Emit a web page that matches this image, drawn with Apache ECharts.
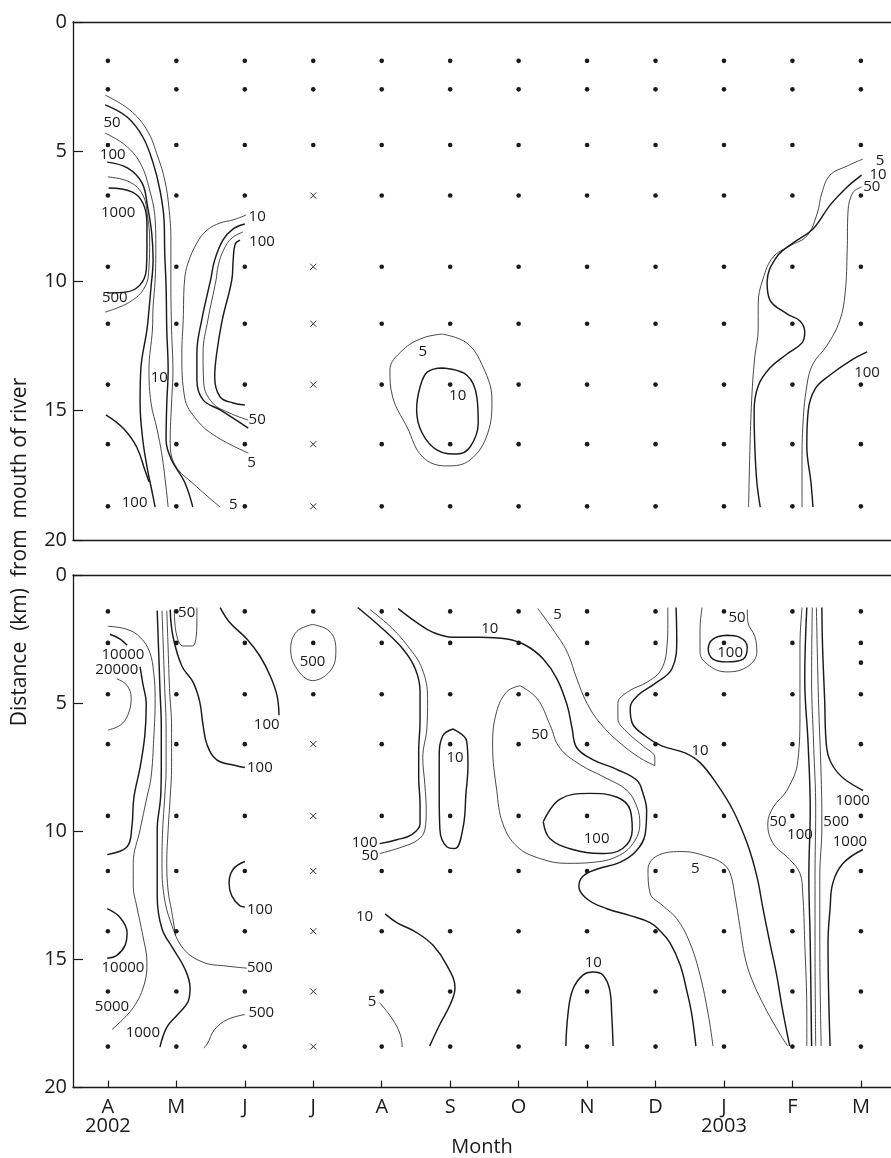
<!DOCTYPE html>
<html>
<head>
<meta charset="utf-8">
<script src="https://cdn.jsdelivr.net/npm/echarts@6/dist/echarts.min.js"></script>
<style>
  html, body { margin: 0; padding: 0; background: #fff; }
  #chart { width: 891px; height: 1158px; }
</style>
</head>
<body>
<div id="chart"></div>
<script>
// ---- sampling calendar and stations ----
const MONTHS = ['A', 'M', 'J', 'J', 'A', 'S', 'O', 'N', 'D', 'J', 'F', 'M'];
const YEAR_AT = { 0: '2002', 9: '2003' };
const UPPER_DEPTHS = [1.5, 2.6, 4.75, 6.7, 9.45, 11.65, 14.0, 16.3, 18.7];
const LOWER_DEPTHS = [1.42, 2.65, 4.65, 6.6, 9.4, 11.55, 13.9, 16.25, 18.4];
const UNSAMPLED_MONTH = 3;      // July: deeper stations not sampled
const UNSAMPLED_FROM_ROW = 3;
const LOWER_EXTRA_STATIONS = [[11, 3.42]];

// ---- upper panel isolines: [month index, km] ----
const up5West = [[-0.04,2.82],[0.32,3.40],[0.57,4.17],[0.73,5.21],[0.83,6.10],[0.89,7.14],[0.92,8.42],[0.92,9.96],[0.93,11.89],[0.95,13.44],[0.93,14.71],[0.91,16.14],[0.98,17.10],[1.27,17.88],[1.64,18.73]];
const up10West = [[-0.04,3.20],[0.28,3.67],[0.51,4.44],[0.66,5.44],[0.76,6.49],[0.82,7.64],[0.83,8.92],[0.85,10.23],[0.86,11.89],[0.88,13.44],[0.86,14.71],[0.85,16.14],[0.93,16.91],[1.12,17.76],[1.24,18.73]];
const up50West = [[-0.04,4.29],[0.25,4.75],[0.47,5.44],[0.61,6.49],[0.69,7.64],[0.70,8.69],[0.69,9.96],[0.66,11.00],[0.65,11.89],[0.60,13.44],[0.63,14.71],[0.72,15.75],[0.80,16.91],[0.88,18.73]];
const up100West = [[-0.01,5.41],[0.29,5.64],[0.50,6.22],[0.58,7.14],[0.64,8.15],[0.66,9.19],[0.63,10.23],[0.60,11.12],[0.57,11.89],[0.48,13.44],[0.47,14.71],[0.51,16.14],[0.58,17.30],[0.64,18.07],[0.69,18.73]];
const up100South = [[-0.03,15.17],[0.22,15.68],[0.42,16.41],[0.54,17.30],[0.60,17.75]];
const up500West = [[0,5.98],[0.32,6.18],[0.51,6.68],[0.58,7.53],[0.61,8.42],[0.60,9.46],[0.54,10.23],[0.32,10.81],[-0.04,11.20]];
const up1000West = [[0.01,6.41],[0.35,6.56],[0.51,6.99],[0.57,7.76],[0.57,8.69],[0.56,9.58],[0.47,10.15],[0.28,10.42],[-0.01,10.46]];
const upJune5 = [[2.02,7.45],[1.83,7.64],[1.64,7.76],[1.45,8.03],[1.30,8.53],[1.17,9.31],[1.12,9.96],[1.10,11.51],[1.08,12.78],[1.12,14.48],[1.30,15.37],[1.59,16.02],[2.05,16.64]];
const upJune10 = [[2.00,7.80],[1.83,7.99],[1.68,8.42],[1.56,9.19],[1.50,9.96],[1.37,11.51],[1.30,12.78],[1.30,13.82],[1.39,14.59],[1.64,14.98],[2.05,15.68]];
const upJune50 = [[1.97,8.11],[1.81,8.34],[1.69,8.80],[1.61,9.42],[1.58,9.96],[1.46,11.51],[1.39,12.78],[1.40,13.94],[1.53,14.71],[1.78,15.10],[2.05,15.37]];
const upJune100 = [[1.93,8.42],[1.86,8.57],[1.83,9.19],[1.81,9.96],[1.67,11.51],[1.59,12.78],[1.56,13.71],[1.64,14.48],[1.83,14.71],[2.00,14.79]];
const upSept5 = [[4.88,12.05],[5.24,12.39],[5.48,13.32],[5.61,14.59],[5.55,15.87],[5.29,16.91],[4.95,17.14],[4.60,16.80],[4.37,15.64],[4.16,14.48],[4.12,13.44],[4.31,12.66],[4.60,12.20],[4.88,12.05]];
const upSept10 = [[4.89,13.36],[5.24,13.63],[5.39,14.48],[5.41,15.48],[5.29,16.41],[5.10,16.68],[4.81,16.53],[4.59,15.87],[4.51,14.98],[4.56,14.09],[4.67,13.51],[4.89,13.36]];
const upFeb5 = [[11.03,5.29],[10.80,5.56],[10.55,5.91],[10.43,6.60],[10.36,7.41],[10.21,8.26],[9.96,8.65],[9.72,9.07],[9.57,9.92],[9.50,10.89],[9.50,11.85],[9.45,12.93],[9.41,14.32],[9.38,16.37],[9.36,18.73]];
const upFeb10 = [[11.01,5.91],[10.80,6.37],[10.55,7.07],[10.30,7.99],[10.01,8.53],[9.77,9.07],[9.63,10.04],[9.67,10.73],[9.92,11.27],[10.11,11.54],[10.18,11.97],[10.14,12.39],[9.92,12.82],[9.67,13.36],[9.50,14.05],[9.44,15.02],[9.45,16.37],[9.48,17.76],[9.53,18.73]];
const upFeb50 = [[11.01,6.37],[10.88,6.60],[10.81,7.41],[10.80,8.80],[10.77,10.46],[10.69,11.54],[10.50,12.51],[10.30,13.20],[10.21,14.05],[10.15,15.71],[10.14,17.07],[10.14,18.73]];
const upFeb100 = [[11.09,12.74],[10.84,13.09],[10.55,13.63],[10.33,14.17],[10.23,15.02],[10.21,16.37],[10.27,17.76],[10.30,18.73]];

const UPPER_TAGS = [
  [0.06,3.90,'50'],[0.07,5.14,'100'],[0.15,7.37,'1000'],[0.10,10.66,'500'],
  [0.75,13.75,'10'],[0.39,18.57,'100'],[1.83,18.65,'5'],[2.10,17.03,'5'],
  [2.18,15.37,'50'],[2.18,7.53,'10'],[2.25,8.49,'100'],[4.60,12.74,'5'],
  [5.11,14.44,'10'],[11.28,5.37,'5'],[11.25,5.91,'10'],[11.16,6.37,'50'],
  [11.09,13.55,'100']
];

// ---- lower panel isolines: [month index, km] ----
const loCapArc = [[0.03,2.31],[0.18,2.50],[0.28,2.74]];
const loOuterWest = [[0,2.00],[0.28,2.12],[0.47,2.43],[0.61,3.01],[0.67,3.85],[0.69,4.82],[0.67,6.36],[0.63,7.90],[0.57,8.67],[0.47,9.94],[0.37,11.25],[0.37,12.14],[0.42,12.91],[0.51,14.07],[0.57,15.11],[0.54,15.88],[0.37,16.88],[0.06,17.73]];
const loCoreWest = [[0.47,3.58],[0.51,4.24],[0.56,5.01],[0.54,6.24],[0.47,7.51],[0.38,8.67],[0.35,9.83],[0.28,10.60],[-0.01,10.91]];
const lo20000 = [[0.13,4.05],[0.28,4.31],[0.34,4.82],[0.29,5.47],[0.18,5.86],[0,6.05]];
const lo10000South = [[-0.01,13.02],[0.18,13.37],[0.28,13.95],[0.25,14.45],[0.13,14.84],[-0.01,14.95]];
const lo1000May = [[0.72,1.39],[0.74,2.89],[0.76,4.43],[0.78,5.97],[0.78,7.51],[0.77,8.67],[0.72,9.94],[0.72,11.25],[0.72,12.52],[0.79,13.80],[0.95,14.57],[1.12,15.34],[1.20,16.11],[1.17,16.65],[1.02,17.15],[0.86,17.65],[0.76,18.42]];
const lo500May = [[0.79,1.39],[0.81,2.89],[0.83,4.43],[0.85,5.97],[0.85,7.51],[0.83,8.67],[0.80,9.94],[0.79,11.25],[0.82,12.52],[0.92,13.56],[1.10,14.57],[1.39,15.11],[1.74,15.26],[2.03,15.34]];
const loMayInner = [[0.86,1.39],[0.88,2.89],[0.90,4.43],[0.93,5.97],[0.93,7.51],[0.91,8.67],[0.88,9.94],[0.86,11.25],[0.88,12.33],[0.93,13.10],[0.99,14.07]];
const lo100May = [[0.91,1.35],[0.95,2.39],[1.08,3.55],[1.24,4.16],[1.34,4.93],[1.39,5.86],[1.45,6.63],[1.59,7.21],[1.88,7.44],[2.00,7.51]];
const lo50May = [[0.97,1.35],[1.00,2.30],[1.10,2.77],[1.23,2.77],[1.29,2.39],[1.30,1.73],[1.30,1.27]];
const lo100June = [[1.64,1.27],[1.78,1.85],[2.03,2.50],[2.22,3.16],[2.37,3.93],[2.47,4.70],[2.50,5.47]];
const lo500July = [[2.99,1.93],[3.24,2.20],[3.33,2.89],[3.27,3.66],[2.99,4.12],[2.76,3.66],[2.67,2.89],[2.76,2.20],[2.99,1.93]];
const lo100Hook = [[2.00,11.18],[1.83,11.48],[1.77,12.02],[1.81,12.52],[1.93,12.91],[2.00,12.95]];
const lo500Foot = [[2.00,17.15],[1.75,17.34],[1.56,17.73],[1.45,18.30],[1.40,18.45]];
const lo100Aug = [[3.65,1.27],[4.02,2.12],[4.31,2.89],[4.49,3.66],[4.56,4.55],[4.56,5.70],[4.54,6.86],[4.54,7.90],[4.56,8.94],[4.56,9.71],[4.44,10.13],[4.22,10.33],[3.97,10.48]];
const lo50Aug = [[3.83,1.35],[4.12,2.00],[4.38,2.77],[4.59,3.66],[4.67,4.82],[4.66,5.97],[4.60,7.13],[4.63,8.17],[4.65,9.17],[4.63,9.94],[4.53,10.33],[4.31,10.60],[3.97,10.87]];
const lo10Sept = [[5.04,6.01],[5.24,6.47],[5.26,7.40],[5.23,8.55],[5.19,9.83],[5.07,10.67],[4.95,10.60],[4.85,9.94],[4.84,8.55],[4.84,7.13],[4.89,6.28],[5.04,6.01]];
const lo10Main = [[4.24,1.31],[4.51,1.85],[4.75,2.24],[5.04,2.43],[5.43,2.43],[5.83,2.50],[6.12,2.77],[6.36,3.28],[6.56,4.05],[6.71,5.09],[6.78,5.97],[6.85,6.74],[7.09,7.21],[7.44,7.59],[7.73,8.02],[7.82,8.55],[7.87,9.17],[7.85,10.10],[7.71,10.79],[7.48,11.21],[7.14,11.48],[6.94,11.75],[6.88,12.14],[7.00,12.64],[7.29,13.02],[7.63,13.29],[7.92,13.56],[8.06,13.87],[8.21,14.34],[8.36,15.22],[8.46,16.26],[8.53,17.15],[8.59,18.38]];
const lo50Oct = [[6.02,4.32],[6.27,4.82],[6.46,5.86],[6.60,6.74],[6.90,7.40],[7.26,7.90],[7.58,8.40],[7.73,9.06],[7.77,9.71],[7.67,10.48],[7.44,10.98],[7.09,11.21],[6.71,11.25],[6.31,11.06],[5.98,10.60],[5.77,9.71],[5.68,8.40],[5.62,6.63],[5.68,5.32],[5.83,4.55],[6.02,4.32]];
const lo100Nov = [[6.36,9.63],[6.60,8.75],[7.04,8.52],[7.44,8.67],[7.63,9.17],[7.66,9.94],[7.52,10.67],[7.19,10.87],[6.79,10.71],[6.46,10.29],[6.36,9.63]];
const lo5North = [[6.28,1.31],[6.50,2.12],[6.71,3.01],[6.85,4.05],[7.00,5.01],[7.19,5.78],[7.48,6.55],[7.77,7.13],[7.99,7.44],[7.99,7.13],[7.82,6.67],[7.60,6.17],[7.45,5.59],[7.45,5.01],[7.60,4.55],[7.89,4.16],[8.09,3.66],[8.17,2.70],[8.18,1.93],[8.18,1.27]];
const lo10Dec = [[8.30,1.27],[8.31,2.50],[8.24,3.66],[7.99,4.24],[7.74,4.70],[7.63,5.20],[7.66,5.78],[7.85,6.28],[8.09,6.67],[8.43,6.94],[8.65,7.32],[8.90,8.17],[9.13,9.17],[9.34,10.48],[9.48,11.75],[9.57,13.02],[9.67,14.34],[9.77,15.61],[9.85,16.88],[9.96,18.38]];
const lo5Dec = [[8.84,18.38],[8.77,17.15],[8.65,15.61],[8.50,14.34],[8.31,13.41],[8.11,12.91],[7.92,12.41],[7.89,11.48],[8.06,10.91],[8.40,10.79],[8.75,10.98],[8.98,11.25],[9.09,11.64],[9.16,12.52],[9.23,13.68],[9.31,14.95],[9.41,15.80],[9.60,16.88],[9.82,17.92],[9.93,18.38]];
const lo10NovFoot = [[6.69,18.38],[6.72,17.15],[6.79,16.18],[6.94,15.61],[7.09,15.49],[7.23,15.61],[7.33,16.18],[7.36,17.15],[7.38,18.38]];
const lo10SeptFoot = [[4.05,13.22],[4.22,13.56],[4.51,13.95],[4.75,14.45],[4.95,15.22],[5.07,16.11],[5.00,16.76],[4.85,17.53],[4.70,18.38]];
const lo5AugFoot = [[3.97,16.69],[4.15,17.30],[4.27,17.92],[4.30,18.42]];
const lo50Jan = [[8.68,1.27],[8.65,2.12],[8.65,3.01],[8.79,3.55],[9.04,3.78],[9.34,3.58],[9.48,3.01],[9.45,2.39],[9.35,1.85],[9.34,1.35]];
const lo100Jan = [[9.04,2.35],[9.23,2.43],[9.34,2.81],[9.28,3.28],[9.04,3.39],[8.84,3.28],[8.77,2.89],[8.84,2.50],[9.04,2.35]];
const lo50Feb = [[10.14,1.27],[10.11,2.77],[10.11,5.32],[10.08,7.24],[9.92,8.40],[9.72,9.06],[9.64,9.71],[9.72,10.48],[9.96,11.10],[10.11,11.64],[10.15,12.41],[10.18,14.34],[10.21,17.15],[10.21,18.38]];
const lo100Feb = [[10.21,1.27],[10.18,4.05],[10.23,6.63],[10.26,9.17],[10.24,11.75],[10.26,14.34],[10.28,18.38]];
const loFebMid = [[10.29,1.27],[10.28,4.05],[10.31,6.63],[10.34,9.17],[10.33,11.75],[10.33,14.34],[10.34,18.38]];
const lo500Feb = [[10.35,1.27],[10.38,4.82],[10.42,7.90],[10.43,9.83],[10.40,11.75],[10.40,14.34],[10.42,18.38]];
const lo1000FebN = [[10.43,1.27],[10.44,2.77],[10.47,4.82],[10.50,6.74],[10.66,7.71],[11.03,8.40]];
const lo1000FebS = [[11.03,10.71],[10.74,11.25],[10.59,12.02],[10.55,13.02],[10.52,14.34],[10.55,18.38]];

const LOWER_TAGS = [
  [0.22,3.12,'10000'],[0.13,3.70,'20000'],[1.15,1.46,'50'],[2.22,7.51,'100'],
  [2.32,5.86,'100'],[2.99,3.39,'500'],[2.22,13.06,'100'],[0.22,15.34,'10000'],
  [0.06,16.84,'5000'],[2.22,15.34,'500'],[0.51,17.84,'1000'],[2.24,17.07,'500'],
  [5.58,2.08,'10'],[6.57,1.54,'5'],[5.07,7.13,'10'],[6.31,6.24,'50'],
  [7.14,10.29,'100'],[3.75,10.44,'100'],[3.83,10.94,'50'],[3.75,13.33,'10'],
  [3.86,16.65,'5'],[7.09,15.11,'10'],[8.58,11.48,'5'],[8.65,6.86,'10'],
  [9.19,1.66,'50'],[9.09,3.04,'100'],[9.79,9.63,'50'],[10.11,10.13,'100'],
  [10.64,9.63,'500'],[10.88,8.79,'1000'],[10.84,10.40,'1000']
];

// ---- which isolines are drawn with the heavier pen ----
const upperIsolines = [
  [up5West, false], [up10West, true], [up50West, false], [up100West, true],
  [up100South, true], [up500West, false], [up1000West, true],
  [upJune5, false], [upJune10, true], [upJune50, false], [upJune100, true],
  [upSept5, false], [upSept10, true],
  [upFeb5, false], [upFeb10, true], [upFeb50, false], [upFeb100, true]
];
const lowerIsolines = [
  [loCapArc, true], [loOuterWest, false], [loCoreWest, true], [lo20000, false],
  [lo10000South, true], [lo1000May, true], [lo500May, false], [loMayInner, false],
  [lo100May, true], [lo50May, false], [lo100June, true], [lo500July, false],
  [lo100Hook, true], [lo500Foot, false], [lo100Aug, true], [lo50Aug, false],
  [lo10Sept, true], [lo10Main, true], [lo50Oct, false], [lo100Nov, true],
  [lo5North, false], [lo10Dec, true], [lo5Dec, false], [lo10NovFoot, true],
  [lo10SeptFoot, true], [lo5AugFoot, false], [lo50Jan, false], [lo100Jan, true],
  [lo50Feb, false], [lo100Feb, true], [loFebMid, false], [lo500Feb, false],
  [lo1000FebN, true], [lo1000FebS, true]
];

const INK = '#1a1a1a';
const FONT = '"Open Sans", "Noto Sans", sans-serif';
const X_MIN = -0.51, X_MAX = 11.44;
const MONTH_POS = MONTHS.map((_, i) => i);

function stationData(depths, extra) {
  const dots = [], crosses = [];
  MONTHS.forEach((_, i) => {
    depths.forEach((d, r) => {
      if (i === UNSAMPLED_MONTH && r >= UNSAMPLED_FROM_ROW) crosses.push([i, d]);
      else dots.push([i, d]);
    });
  });
  (extra || []).forEach(p => dots.push(p));
  return { dots, crosses };
}

function isolineSeries(list, panel) {
  return list.map(([pts, heavy]) => ({
    type: 'line', xAxisIndex: panel * 2, yAxisIndex: panel,
    data: pts, smooth: 0.4, symbol: 'none', silent: true, z: 3,
    lineStyle: { color: INK, width: heavy ? 1.45 : 0.8 }
  }));
}

function stationSeries(st, panel) {
  return [
    { type: 'scatter', xAxisIndex: panel * 2, yAxisIndex: panel, data: st.dots,
      symbol: 'circle', symbolSize: 4.6, itemStyle: { color: INK, opacity: 1 }, silent: true, z: 4 },
    { type: 'scatter', xAxisIndex: panel * 2, yAxisIndex: panel, data: st.crosses,
      symbol: 'path://M0 0L10 10M10 0L0 10', symbolSize: 6,
      itemStyle: { color: 'transparent', borderColor: INK, borderWidth: 0.9, opacity: 1 }, silent: true, z: 4 }
  ];
}

function tagSeries(tags, panel) {
  return {
    type: 'scatter', xAxisIndex: panel * 2, yAxisIndex: panel, symbolSize: 0, silent: true, z: 5,
    itemStyle: { opacity: 1 },
    data: tags.map(([m, k, t]) => ({ value: [m, k], name: t })),
    label: { show: true, position: 'inside', formatter: '{b}', color: INK, fontSize: 15, fontFamily: FONT }
  };
}

function frameAxis(grid, position) {
  return {
    type: 'value', gridIndex: grid, position, min: X_MIN, max: X_MAX,
    axisLine: { show: true, onZero: false, lineStyle: { color: INK, width: 1.3 } },
    axisTick: { show: false }, axisLabel: { show: false }, splitLine: { show: false }
  };
}

function depthAxis(grid) {
  return {
    type: 'value', gridIndex: grid, inverse: true, min: 0, max: 20, interval: 5,
    axisLine: { show: true, onZero: false, lineStyle: { color: INK, width: 1.3 } },
    axisTick: { show: true, inside: true, length: 10, lineStyle: { color: INK, width: 1.2 } },
    axisLabel: { color: INK, fontSize: 20, fontFamily: FONT, margin: 6 },
    splitLine: { show: false }
  };
}

const monthAxis = Object.assign(frameAxis(1, 'bottom'), {
  name: 'Month', nameLocation: 'middle', nameGap: 45,
  nameTextStyle: { color: INK, fontSize: 20, fontFamily: FONT },
  axisTick: { show: true, inside: true, length: 7, customValues: MONTH_POS,
              lineStyle: { color: INK, width: 1.2 } },
  axisLabel: { show: true, customValues: MONTH_POS, color: INK, fontSize: 20,
               fontFamily: FONT, margin: 10, lineHeight: 19,
               formatter: v => { const i = Math.round(v); return YEAR_AT[i] ? MONTHS[i] + '\n' + YEAR_AT[i] : MONTHS[i]; } }
});

const upperStations = stationData(UPPER_DEPTHS);
const lowerStations = stationData(LOWER_DEPTHS, LOWER_EXTRA_STATIONS);

const option = {
  animation: false,
  backgroundColor: '#ffffff',
  grid: [
    { left: 73, top: 22, right: 0, height: 518 },
    { left: 73, top: 575, right: 0, height: 519 }
  ],
  xAxis: [frameAxis(0, 'bottom'), frameAxis(0, 'top'), monthAxis, frameAxis(1, 'top')],
  yAxis: [depthAxis(0), depthAxis(1)],
  graphic: [{
    type: 'text', x: 20, y: 552, rotation: Math.PI / 2, silent: true,
    style: { text: 'Distance  (km)  from  mouth of river', fill: INK,
             font: '21px ' + FONT, align: 'center', verticalAlign: 'middle' }
  }],
  series: [
    ...isolineSeries(upperIsolines, 0),
    ...isolineSeries(lowerIsolines, 1),
    ...stationSeries(upperStations, 0),
    ...stationSeries(lowerStations, 1),
    tagSeries(UPPER_TAGS, 0),
    tagSeries(LOWER_TAGS, 1)
  ]
};

const chart = echarts.init(document.getElementById('chart'), null, { renderer: 'canvas' });
chart.setOption(option);
</script>
</body>
</html>
